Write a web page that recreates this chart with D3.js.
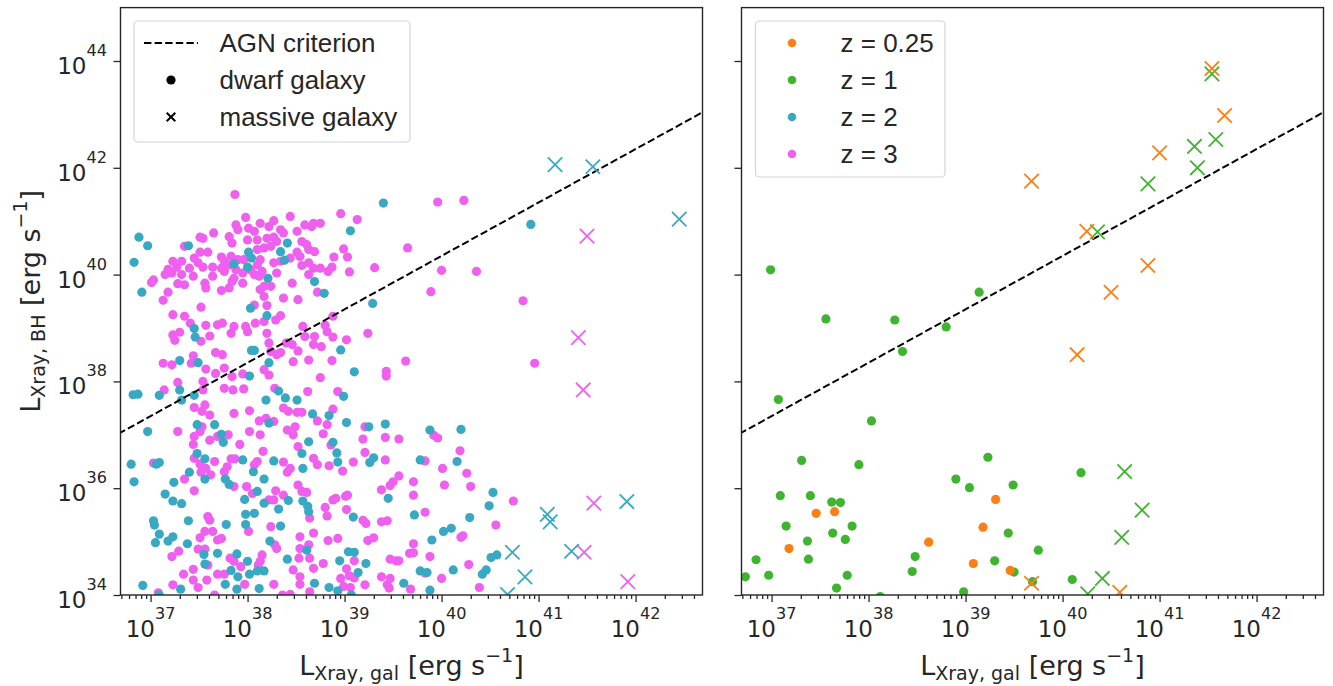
<!DOCTYPE html>
<html><head><meta charset="utf-8">
<script src="https://cdn.jsdelivr.net/npm/d3@7"></script>
<style>
body{margin:0;background:#fff;}
svg{display:block;}
text{font-family:"Liberation Sans",Arial,sans-serif;fill:#262626;}
.math{font-family:"DejaVu Sans",sans-serif;}
</style>
</head><body>
<svg id="c" width="1333" height="686"></svg>
<script>
// ---------------- DATA (log10 of luminosity in erg/s) ----------------
const xDomainLog = [36.69, 42.69];
const yDomainLog = [34, 45];
const xTickExps = [37, 38, 39, 40, 41, 42];
const yTickExps = [34, 36, 38, 40, 42, 44];
const agnLogX = [36, 43];
const agnLogY = [36.35, 43.35];

const seriesNames = ["z = 0.25", "z = 1", "z = 2", "z = 3"];
const seriesColors = ["#fb7f14", "#3fb52f", "#39a8c3", "#ef60ef"];
const legendLeftLabels = ["AGN criterion", "dwarf galaxy", "massive galaxy"];

// z = 3 dwarf galaxies (left panel) [log Lgal, log LBH]
const z3Dwarf = [[37.87,41.50],[37.98,41.07],[38.13,40.96],[38.22,40.90],[38.27,41.01],[38.44,41.09],[38.59,40.93],[38.66,40.90],[37.88,40.93],[37.90,40.84],[38.01,40.87],[38.07,40.81],[38.34,40.84],[38.37,40.78],[38.51,40.81],[38.68,40.96],[37.65,40.78],[37.51,40.70],[37.54,40.68],[37.81,40.71],[37.84,40.59],[38.00,40.65],[38.10,40.65],[38.20,40.68],[38.27,40.70],[38.30,40.62],[38.56,40.62],[38.61,40.56],[37.35,40.53],[37.51,40.42],[37.59,40.42],[37.73,40.33],[37.76,40.25],[37.83,40.34],[37.90,40.28],[37.96,40.28],[38.10,40.47],[38.17,40.50],[38.24,40.53],[38.51,40.42],[38.54,40.34],[38.63,40.47],[38.69,40.43],[37.23,40.25],[37.32,40.25],[37.27,40.14],[37.18,40.10],[37.45,40.31],[37.49,40.22],[37.40,40.12],[37.54,40.14],[37.64,40.14],[37.73,40.12],[37.81,40.18],[37.95,40.03],[38.03,40.09],[38.10,40.18],[38.13,40.28],[38.27,40.22],[38.34,40.25],[38.44,40.31],[38.56,40.17],[38.63,40.22],[37.15,40.00],[37.22,40.03],[37.32,40.00],[37.44,39.97],[37.64,39.97],[37.76,40.06],[37.86,39.93],[37.88,40.09],[38.07,40.00],[38.12,39.97],[38.15,40.06],[38.30,40.03],[37.03,39.90],[37.01,39.85],[37.28,39.83],[37.35,39.81],[37.56,39.84],[37.57,39.75],[37.73,39.70],[37.81,39.75],[37.84,39.87],[37.95,39.84],[38.17,39.78],[38.13,39.72],[38.24,39.78],[38.46,39.84],[38.63,40.00],[38.68,40.12],[37.18,39.67],[37.13,39.52],[37.52,39.39],[38.17,39.59],[38.20,39.42],[38.37,39.56],[38.52,39.53],[38.07,39.43],[37.23,39.25],[37.35,39.22],[37.41,39.09],[37.57,39.05],[37.69,39.06],[37.74,39.09],[37.86,39.03],[37.98,39.03],[38.00,38.93],[38.17,39.12],[38.08,39.09],[38.29,39.15],[38.34,39.23],[38.57,39.03],[38.69,38.84],[37.23,38.87],[37.30,38.92],[37.25,38.77],[37.61,38.85],[37.52,38.75],[37.83,38.90],[38.20,38.90],[38.22,38.72],[38.40,38.72],[38.46,38.69],[38.59,38.84],[38.68,38.69],[37.67,38.54],[37.74,38.50],[38.24,38.56],[38.30,38.50],[38.34,38.54],[38.52,38.57],[37.13,38.34],[37.22,38.31],[37.44,38.48],[37.42,38.34],[37.57,38.23],[37.76,38.25],[37.67,38.15],[37.84,38.09],[37.95,38.14],[38.17,38.22],[38.22,38.12],[38.47,38.37],[38.63,38.40],[37.28,37.98],[37.54,38.00],
[39.96,41.36],[40.23,41.39],[38.96,41.14],[39.13,41.03],[38.75,40.96],[38.99,40.48],[39.03,40.33],[38.89,40.33],[39.65,40.50],[39.31,40.13],[39.05,40.05],[38.75,40.12],[38.83,40.06],[38.87,40.14],[38.72,39.67],[40.00,40.08],[40.36,40.06],[39.89,39.68],[38.88,39.22],[38.80,39.05],[38.82,38.93],[38.88,38.83],[39.02,38.78],[39.24,38.90],[38.76,38.65],[38.87,38.39],[39.63,38.38],[39.43,38.19],[39.43,38.10],[38.75,38.07],
[40.84,39.51],[40.96,38.34],[40.74,35.76],
[37.14,37.84],[37.54,37.84],[37.76,37.87],[37.85,37.84],[37.96,37.86],[38.28,37.87],[38.62,37.81],[37.56,37.56],[37.45,37.51],[37.53,37.44],[37.61,37.37],[37.86,37.40],[38.02,37.45],[37.28,37.06],[37.45,36.97],[37.51,37.06],[37.53,37.15],[37.61,36.90],[37.69,36.97],[37.80,37.00],[37.92,36.82],[38.02,37.06],[38.12,37.26],[38.19,37.31],[38.27,37.25],[38.13,37.00],[38.41,37.09],[38.47,37.00],[38.49,37.15],[38.37,37.50],[38.42,37.44],[38.51,37.42],[38.56,37.42],[38.52,36.78],[38.68,36.56],[37.44,36.82],[37.45,36.56],[37.51,36.45],[37.57,36.37],[37.66,36.50],[37.62,36.25],[37.83,36.55],[37.87,36.55],[37.79,36.40],[37.76,36.31],[37.86,36.03],[37.99,36.03],[37.03,36.47],[37.35,36.17],[37.45,35.95],[37.52,36.30],[38.10,36.50],[38.07,36.44],[38.16,36.69],[38.37,36.49],[38.44,36.37],[38.41,36.30],[38.52,36.06],[38.56,35.94],[38.61,35.92],[38.29,35.95],[38.37,35.87],[38.22,35.78],[38.05,35.90],[38.27,35.78],[38.64,35.44],[38.68,35.16],[37.59,35.47],[37.61,35.40],[37.56,35.19],[37.64,35.19],[37.69,35.03],[37.73,35.06],[37.51,35.07],[38.01,35.19],[38.24,35.28],[38.28,34.94],[38.30,34.87],[38.54,35.09],[38.63,34.94],[38.54,34.87],[38.64,34.69],[38.53,34.69],[38.47,34.47],[38.54,34.34],[38.68,34.50],[37.22,34.72],[37.29,34.82],[37.49,34.86],[37.56,34.86],[37.59,34.56],[37.44,34.48],[37.34,34.39],[37.69,34.39],[37.76,34.39],[37.82,34.69],[37.86,34.63],[37.93,34.53],[38.15,34.75],[38.13,34.63],[38.11,34.56],[37.23,34.19],[37.44,34.28],[37.49,34.14],[37.58,34.28],[37.66,34.00],[37.97,34.20],[38.27,34.20],[38.36,34.00],[38.44,34.01],[38.64,34.06],[37.08,34.04],[38.54,34.20],
[38.93,37.81],[38.88,37.48],[38.72,37.26],[38.78,37.02],[38.82,37.19],[38.86,36.81],[39.21,37.15],[39.19,36.92],[39.42,36.95],[39.56,36.92],[39.92,36.99],[39.96,36.94],[40.19,36.70],[39.21,36.67],[39.09,36.49],[39.42,36.53],[38.72,36.44],[38.84,36.42],[38.98,36.32],[39.83,36.51],[40.01,36.37],[40.26,36.28],[40.03,36.06],[40.30,36.03],[39.56,36.23],[39.50,36.12],[39.47,36.05],[39.38,35.97],[39.71,36.12],[39.71,35.87],[38.88,35.78],[38.91,35.81],[39.01,35.85],[39.03,35.87],[38.80,35.64],[39.02,35.60],[38.82,35.48],[39.83,35.55],[39.19,35.40],[39.22,35.34],[39.38,35.37],[39.44,35.39],[40.56,35.31],[38.83,35.02],[38.93,35.06],[39.24,35.02],[39.30,35.07],[39.71,34.96],[39.67,34.78],[39.71,34.79],[40.20,35.08],[40.22,35.11],[39.88,34.72],[39.47,34.67],[39.53,34.64],[39.56,34.64],[38.78,34.59],[39.02,34.49],[39.10,34.64],[40.28,34.57],[39.38,34.34],[39.47,34.31],[38.96,34.31],[39.05,34.36],[38.99,34.16],[39.06,34.14],[39.21,34.19],[39.10,34.32],[39.44,34.19],[39.46,34.13],[39.68,34.11],[39.83,34.41],[40.00,34.31],[40.39,34.14]];

// z = 2 dwarf galaxies (left panel)
const z2Dwarf = [[36.88,40.70],[36.97,40.54],[36.83,40.23],[36.91,39.67],[37.39,40.54],[37.86,40.20],[38.00,40.14],[38.01,40.42],[38.04,40.31],[38.21,39.93],[38.34,40.43],[38.38,40.27],[38.41,40.59],[38.69,39.87],[38.03,39.37],[38.20,39.23],[37.45,38.99],[37.46,38.83],[37.30,38.39],[37.49,38.35],[38.04,38.58],[38.07,38.58],[38.22,38.35],[38.02,38.10],
[39.40,41.34],[39.06,40.82],[38.79,39.65],[39.29,39.46],[38.96,38.59],[39.10,38.18],[40.92,40.94],
[36.82,37.75],[36.87,37.76],[37.09,37.74],[37.32,37.65],[37.45,37.74],[37.30,37.84],[36.97,37.06],[37.48,37.19],[37.66,37.19],[37.73,37.01],[37.75,36.86],[37.48,36.65],[37.56,36.55],[36.80,36.45],[37.06,36.45],[37.09,36.48],[36.83,36.12],[37.40,36.30],[37.56,36.17],[37.24,36.11],[37.15,35.89],[37.23,35.76],[37.32,35.71],[37.03,35.39],[37.04,35.31],[37.09,35.14],[37.05,34.98],[37.18,35.01],[37.23,35.09],[37.39,35.39],[37.38,34.96],[37.55,34.76],[37.56,34.58],[37.69,34.78],[37.78,35.32],[37.95,36.53],[38.06,36.31],[38.17,36.17],[37.77,36.17],[37.81,36.07],[37.97,35.79],[38.10,35.94],[38.17,35.72],[38.07,35.53],[37.98,35.51],[37.98,35.32],[38.27,36.51],[38.32,35.61],[38.34,35.29],[38.42,35.77],[38.22,37.22],[38.19,37.65],[38.32,37.82],[38.39,37.69],[38.51,37.65],[38.67,37.39],[38.63,36.87],[38.56,36.65],[38.57,36.37],[38.57,35.76],[38.62,35.66],[38.63,35.56],[38.23,35.01],[38.41,34.67],[38.61,34.84],[37.89,34.77],[38.00,34.63],[37.83,34.46],[37.90,34.34],[38.02,34.39],[38.10,34.45],[38.17,34.45],[37.77,34.20],[37.89,34.11],[38.12,34.12],[36.92,34.18],[37.31,34.11],[37.09,34.00],[38.69,34.22],
[38.99,37.72],[38.84,37.36],[39.02,37.23],[39.25,37.15],[39.42,37.20],[38.88,36.86],[38.92,36.66],[38.93,36.49],[39.26,36.48],[39.30,36.57],[39.78,36.53],[39.88,37.09],[40.20,37.10],[40.16,36.50],[40.53,35.92],[40.49,35.67],[39.45,35.81],[39.09,35.46],[39.72,35.50],[40.29,35.45],[40.02,35.19],[40.10,35.25],[39.90,35.03],[39.04,34.81],[39.10,34.80],[38.95,34.64],[39.22,34.59],[39.14,34.42],[39.78,34.45],[39.85,34.42],[40.12,34.47],[40.42,34.39],[40.46,34.47],[40.51,34.70],[40.57,34.75],[39.61,34.22],[38.84,34.14],[38.93,34.08],[39.88,34.09],[39.07,34.00]];

// massive galaxies (left panel)
const z2Massive = [[41.17,42.06],[41.56,42.02],[42.45,41.04],[41.09,35.51],[41.12,35.37],[40.73,34.80],[41.34,34.82],[40.86,34.34],[40.68,34.01],[41.91,35.75]];
const z3Massive = [[41.50,40.72],[41.41,38.82],[41.46,37.84],[41.57,35.72],[41.47,34.80],[41.92,34.25]];

// right panel
const z1Dwarf = [[36.99,40.09],[37.56,39.17],[38.27,39.15],[38.80,39.02],[39.14,39.67],[38.35,38.56],[37.07,37.66],[38.03,37.26],[37.31,36.52],[37.90,36.44],[39.23,36.58],[38.90,36.17],[39.04,36.01],[39.49,36.06],[40.19,36.29],[37.09,35.86],[37.40,35.86],[37.62,35.74],[37.71,35.73],[37.15,35.29],[37.63,35.16],[37.37,35.01],[37.83,35.29],[37.76,35.04],[39.44,35.16],[36.84,34.66],[37.38,34.67],[36.73,34.34],[36.97,34.37],[37.78,34.37],[37.67,34.13],[38.48,34.72],[38.45,34.44],[39.30,34.64],[39.75,34.84],[39.50,34.43],[39.69,34.25],[40.10,34.29],[38.98,34.06],[38.12,33.97]];
const z025Dwarf = [[37.46,35.53],[37.65,35.56],[37.18,34.87],[38.62,34.99],[39.18,35.27],[39.31,35.79],[39.08,34.59],[39.46,34.46]];
const z1Massive = [[41.54,43.76],[41.58,42.53],[41.36,42.40],[41.39,42.00],[40.88,41.70],[40.36,40.80],[40.64,36.31],[40.82,35.59],[40.61,35.08],[40.41,34.31],[40.26,34.02]];
const z025Massive = [[41.54,43.86],[41.67,42.98],[41.00,42.28],[39.68,41.75],[40.25,40.81],[40.88,40.17],[40.50,39.67],[40.15,38.50],[39.68,34.22],[40.59,34.05]];

// ---------------- DRAWING ----------------
const svg = d3.select("#c");
const ink = "#262626";
const pw = v => Math.pow(10, v);
const yTop = 7.6, yBot = 595;
const panels = [
  {x0:120.5, x1:702.5, labels:true, id:"L"},
  {x0:741.5, x1:1323.5, labels:false, id:"R"}
];
const y = d3.scaleLog().domain(yDomainLog.map(pw)).range([yBot, yTop]);

const minorVals = [];
for (let d = 36; d <= 42; d++) for (let k = 2; k <= 9; k++) {
  const lv = d + Math.log10(k);
  if (lv >= xDomainLog[0] && lv <= xDomainLog[1]) minorVals.push(k * pw(d));
}

function crossPath(s){ return `M${-s},${-s}L${s},${s}M${-s},${s}L${s},${-s}`; }

function axisLabel(sel, sub) {
  sel.attr("class", "math").attr("font-size", 27);
  sel.append("tspan").text("L");
  sel.append("tspan").attr("font-size", 19).attr("dy", 4.5).text(sub);
  sel.append("tspan").attr("dy", -4.5).text(" [erg s");
  sel.append("tspan").attr("font-size", 19).attr("dy", -13).text("\u22121");
  sel.append("tspan").attr("dy", 13).text("]");
}

function drawPanel(p, dots, crosses) {
  const x = d3.scaleLog().domain(xDomainLog.map(pw)).range([p.x0, p.x1]);
  const g = svg.append("g");
  const cid = "clip" + p.id;
  svg.append("clipPath").attr("id", cid).append("rect")
    .attr("x", p.x0).attr("y", yTop).attr("width", p.x1 - p.x0).attr("height", yBot - yTop);
  const plot = g.append("g").attr("clip-path", `url(#${cid})`);

  dots.forEach(s => {
    plot.append("g").selectAll("circle").data(s.data).join("circle")
      .attr("cx", d => x(pw(d[0]))).attr("cy", d => y(pw(d[1])))
      .attr("r", 4.6).attr("fill", s.color);
  });
  plot.append("path")
    .datum(agnLogX.map((v, i) => [v, agnLogY[i]]))
    .attr("d", d3.line().x(d => x(pw(d[0]))).y(d => y(pw(d[1]))))
    .attr("fill", "none").attr("stroke", "#000").attr("stroke-width", 2)
    .attr("stroke-dasharray", "7.4,3.2");
  crosses.forEach(s => {
    plot.append("g").selectAll("path").data(s.data).join("path")
      .attr("transform", d => `translate(${x(pw(d[0]))},${y(pw(d[1]))})`)
      .attr("d", crossPath(7.2)).attr("fill", "none")
      .attr("stroke", s.color).attr("stroke-width", 1.8);
  });

  g.append("rect").attr("x", p.x0).attr("y", yTop).attr("width", p.x1 - p.x0).attr("height", yBot - yTop)
    .attr("fill", "none").attr("stroke", ink).attr("stroke-width", 1.4);

  const axM = g.append("g").attr("transform", `translate(0,${yBot})`)
    .call(d3.axisBottom(x).tickValues(xTickExps.map(pw)).tickSize(7).tickFormat(""));
  const axm = g.append("g").attr("transform", `translate(0,${yBot})`)
    .call(d3.axisBottom(x).tickValues(minorVals).tickSize(4).tickFormat(""));
  const axY = g.append("g").attr("transform", `translate(${p.x0},0)`)
    .call(d3.axisLeft(y).tickValues(yTickExps.map(pw)).tickSize(7).tickFormat(""));
  [axM, axm, axY].forEach(a => {
    a.select(".domain").remove();
    a.selectAll("line").attr("stroke", ink).attr("stroke-width", 1.3);
  });

  xTickExps.forEach(e => {
    const t = g.append("text").attr("class", "math").attr("x", x(pw(e))).attr("y", 637).attr("text-anchor", "middle");
    t.append("tspan").attr("font-size", 23).text("10");
    t.append("tspan").attr("font-size", 16.1).attr("dy", -18).text(e);
  });
  if (p.labels) {
    yTickExps.forEach(e => {
      const t = g.append("text").attr("class", "math").attr("x", 107).attr("y", y(pw(e)) + 13).attr("text-anchor", "end");
      t.append("tspan").attr("font-size", 23).text("10");
      t.append("tspan").attr("font-size", 16.1).attr("dy", -18).text(e);
    });
    axisLabel(g.append("text").attr("transform", `translate(40,${(yTop + yBot) / 2}) rotate(-90)`)
      .attr("text-anchor", "middle"), "Xray, BH");
  }
  axisLabel(g.append("text").attr("x", (p.x0 + p.x1) / 2).attr("y", 675).attr("text-anchor", "middle"), "Xray, gal");
}

drawPanel(panels[0],
  [{data: z3Dwarf, color: seriesColors[3]}, {data: z2Dwarf, color: seriesColors[2]}],
  [{data: z3Massive, color: seriesColors[3]}, {data: z2Massive, color: seriesColors[2]}]);
drawPanel(panels[1],
  [{data: z1Dwarf, color: seriesColors[1]}, {data: z025Dwarf, color: seriesColors[0]}],
  [{data: z1Massive, color: seriesColors[1]}, {data: z025Massive, color: seriesColors[0]}]);

// ---------------- LEGENDS ----------------
const rowY = [43, 80, 117, 154];
function legendBox(x, w, h) {
  svg.append("rect").attr("x", x).attr("y", 21).attr("width", w).attr("height", h)
    .attr("rx", 4).attr("fill", "#fff").attr("fill-opacity", 0.8)
    .attr("stroke", "#d4d4d4").attr("stroke-width", 1.2);
}
legendBox(134, 276, 121);
const lg = svg.append("g");
lg.append("line").attr("x1", 144).attr("x2", 198).attr("y1", rowY[0]).attr("y2", rowY[0])
  .attr("stroke", "#000").attr("stroke-width", 2).attr("stroke-dasharray", "7.4,3.2");
lg.append("circle").attr("cx", 171).attr("cy", rowY[1]).attr("r", 4.6).attr("fill", "#000");
lg.append("path").attr("transform", `translate(171,${rowY[2]})`).attr("d", crossPath(4.3))
  .attr("stroke", "#000").attr("stroke-width", 2);
legendLeftLabels.forEach((t, i) => {
  lg.append("text").attr("x", 219.5).attr("y", rowY[i] + 9.3).attr("font-size", 26).text(t);
});

legendBox(755.5, 189.5, 156);
const rg = svg.append("g");
seriesNames.forEach((t, i) => {
  rg.append("circle").attr("cx", 792).attr("cy", rowY[i]).attr("r", 4.3).attr("fill", seriesColors[i]);
  rg.append("text").attr("x", 840.5).attr("y", rowY[i] + 9.3).attr("font-size", 26).text(t);
});
</script>
</body></html>
